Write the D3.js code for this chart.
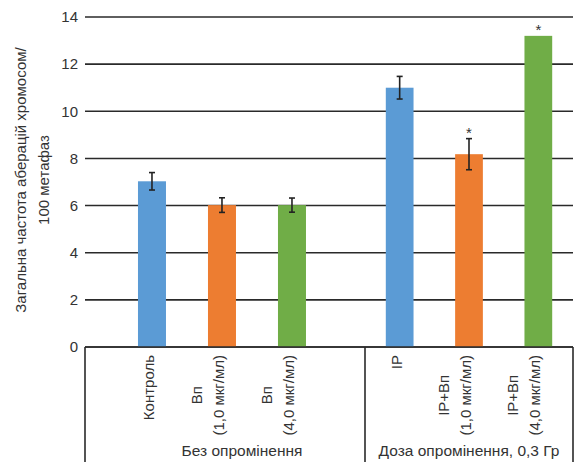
<!DOCTYPE html>
<html>
<head>
<meta charset="utf-8">
<script src="https://cdn.jsdelivr.net/npm/d3@7"></script>
<style>
  html, body { margin: 0; padding: 0; background: #fff; }
  svg { display: block; }
  text { font-family: "Liberation Sans", Arial, sans-serif; fill: #333; }
</style>
</head>
<body>
<svg id="chart" width="580" height="462"></svg>
<script>
// Total frequency of chromosome aberrations per 100 metaphases
const groupNames = ["Без опромінення", "Доза опромінення, 0,3 Гр"];

const groupOneLabels = [["Контроль"], ["Вп", "(1,0 мкг/мл)"], ["Вп", "(4,0 мкг/мл)"]];
const groupOneValues = [7.03, 6.02, 6.02];
const groupOneErrors = [0.37, 0.31, 0.3];
const groupOneMarked = [false, false, false];

const groupTwoLabels = [["IP"], ["IP+Вп", "(1,0 мкг/мл)"], ["IP+Вп", "(4,0 мкг/мл)"]];
const groupTwoValues = [11.0, 8.18, 13.2];
const groupTwoErrors = [0.48, 0.66, 0];
const groupTwoMarked = [false, true, true];

const seriesColors = ["#5b9bd5", "#ed7d31", "#70ad47"];
const yTicks = [0, 2, 4, 6, 8, 10, 12, 14];
const yTitle = ["Загальна частота аберацій хромосом/", "100 метафаз"];

const svg = d3.select("#chart");
const plotLeft = 85, plotRight = 573, plotTop = 17, plotBottom = 347, divider = 365;

const y = d3.scaleLinear().domain([0, 14]).range([plotBottom, plotTop]);

const groups = [
  { name: groupNames[0], labels: groupOneLabels, values: groupOneValues, errors: groupOneErrors, marked: groupOneMarked,
    x: d3.scaleBand().domain(d3.range(3)).range([plotLeft, divider]).paddingInner(0.6).paddingOuter(0.8).align(0.473),
    nameX: 242 },
  { name: groupNames[1], labels: groupTwoLabels, values: groupTwoValues, errors: groupTwoErrors, marked: groupTwoMarked,
    x: d3.scaleBand().domain(d3.range(3)).range([divider, plotRight]).paddingInner(0.6).paddingOuter(0.3).align(0.5),
    nameX: (divider + plotRight) / 2 }
];

// horizontal gridlines
svg.append("g")
  .selectAll("line")
  .data(yTicks)
  .join("line")
  .attr("x1", plotLeft).attr("x2", plotRight)
  .attr("y1", d => y(d)).attr("y2", d => y(d))
  .attr("stroke", "#2a2a2a")
  .attr("stroke-width", 1.6);

// y axis tick labels
const yAxis = d3.axisLeft(y).tickValues(yTicks).tickSize(0).tickPadding(7);
const yg = svg.append("g").attr("transform", `translate(${plotLeft},0)`).call(yAxis);
yg.select(".domain").remove();
yg.selectAll("text")
  .attr("font-size", 15)
  .attr("font-family", "Liberation Sans, Arial, sans-serif")
  .attr("fill", "#333");

// y axis title (two rotated lines)
svg.append("text")
  .attr("transform", "translate(0,180) rotate(-90)")
  .attr("text-anchor", "middle")
  .attr("font-size", 15)
  .selectAll("tspan")
  .data(yTitle)
  .join("tspan")
  .attr("x", 0)
  .attr("y", (d, i) => 26 + i * 22.5)
  .text(d => d);

// bars, error bars, significance marks, category labels
groups.forEach(g => {
  const bw = g.x.bandwidth();
  const layer = svg.append("g");

  layer.selectAll("rect")
    .data(g.values)
    .join("rect")
    .attr("x", (d, i) => g.x(i))
    .attr("width", bw)
    .attr("y", d => y(d))
    .attr("height", d => y(0) - y(d))
    .attr("fill", (d, i) => seriesColors[i]);

  const eb = layer.selectAll("g.err")
    .data(g.values.map((v, i) => ({ v, e: g.errors[i], i })).filter(d => d.e > 0))
    .join("g")
    .attr("class", "err")
    .attr("stroke", "#222")
    .attr("stroke-width", 1.6);
  eb.append("line")
    .attr("x1", d => g.x(d.i) + bw / 2).attr("x2", d => g.x(d.i) + bw / 2)
    .attr("y1", d => y(d.v + d.e)).attr("y2", d => y(d.v - d.e));
  eb.append("line")
    .attr("x1", d => g.x(d.i) + bw / 2 - 3).attr("x2", d => g.x(d.i) + bw / 2 + 3)
    .attr("y1", d => y(d.v + d.e)).attr("y2", d => y(d.v + d.e));
  eb.append("line")
    .attr("x1", d => g.x(d.i) + bw / 2 - 3).attr("x2", d => g.x(d.i) + bw / 2 + 3)
    .attr("y1", d => y(d.v - d.e)).attr("y2", d => y(d.v - d.e));

  layer.selectAll("text.mark")
    .data(g.values.map((v, i) => ({ v, e: g.errors[i], i, m: g.marked[i] })).filter(d => d.m))
    .join("text")
    .attr("class", "mark")
    .attr("x", d => g.x(d.i) + bw / 2)
    .attr("y", d => y(d.v + d.e) - 0.5)
    .attr("text-anchor", "middle")
    .attr("font-size", 15)
    .attr("fill", "#555")
    .text("*");

  // rotated category labels, anchored at the top, lines centred on the longest one
  g.labels.forEach((lines, i) => {
    const cx = g.x(i) + bw / 2;
    const t = layer.append("text")
      .attr("transform", `translate(${cx + 2},355) rotate(-90)`)
      .attr("font-size", 15);
    const spans = t.selectAll("tspan")
      .data(lines)
      .join("tspan")
      .attr("y", (d, j) => (j - (lines.length - 1)) * 22)
      .text(d => d);
    const widths = [];
    spans.each(function () { widths.push(this.getComputedTextLength()); });
    const maxW = d3.max(widths);
    spans.attr("x", (d, j) => -(maxW - widths[j]) / 2).attr("text-anchor", "end");
  });

  // group name under the categories
  svg.append("text")
    .attr("x", g.nameX)
    .attr("y", 456)
    .attr("text-anchor", "middle")
    .attr("font-size", 15.5)
    .text(g.name);
});

// axis baseline and category box
const frame = svg.append("g").attr("stroke", "#2a2a2a").attr("stroke-width", 1.6);
frame.append("line").attr("x1", plotLeft).attr("x2", plotRight).attr("y1", y(0)).attr("y2", y(0));
[plotLeft, divider, plotRight].forEach(xv => {
  frame.append("line").attr("x1", xv).attr("x2", xv).attr("y1", y(0)).attr("y2", 462);
});
</script>
</body>
</html>
